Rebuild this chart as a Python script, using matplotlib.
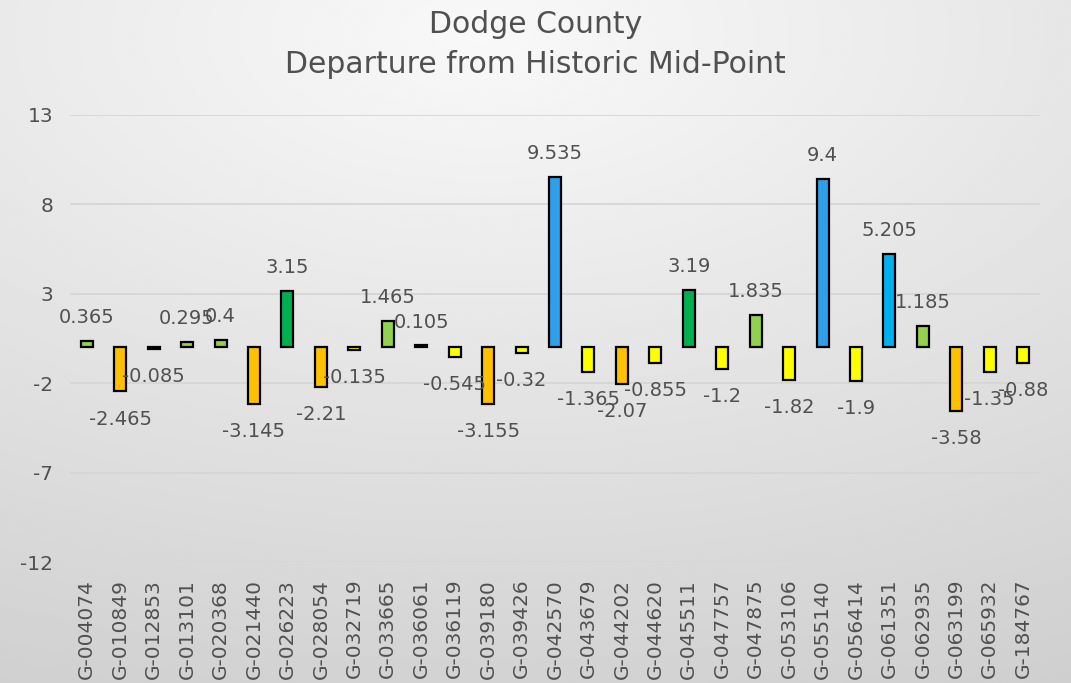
import matplotlib.pyplot as plt
import numpy as np

wells = ["G-004074", "G-010849", "G-012853", "G-013101", "G-020368", "G-021440",
         "G-026223", "G-028054", "G-032719", "G-033665", "G-036061", "G-036119",
         "G-039180", "G-039426", "G-042570", "G-043679", "G-044202", "G-044620",
         "G-045511", "G-047757", "G-047875", "G-053106", "G-055140", "G-056414",
         "G-061351", "G-062935", "G-063199", "G-065932", "G-184767"]
departure = [0.365, -2.465, -0.085, 0.295, 0.4, -3.145, 3.15, -2.21, -0.135, 1.465,
             0.105, -0.545, -3.155, -0.32, 9.535, -1.365, -2.07, -0.855, 3.19, -1.2,
             1.835, -1.82, 9.4, -1.9, 5.205, 1.185, -3.58, -1.35, -0.88]
# colour class of each bar
bar_colors = ["#92D050", "#FFC000", "#FFFF00", "#92D050", "#92D050", "#FFC000",
              "#00B050", "#FFC000", "#FFFF00", "#92D050", "#92D050", "#FFFF00",
              "#FFC000", "#FFFF00", "#2E9FE8", "#FFFF00", "#FFC000", "#FFFF00",
              "#00B050", "#FFFF00", "#92D050", "#FFFF00", "#2E9FE8", "#FFFF00",
              "#00B0F0", "#92D050", "#FFC000", "#FFFF00", "#FFFF00"]
yticks = [-12, -7, -2, 3, 8, 13]

txt = "#505050"
plt.rcParams['font.family'] = ['DejaVu Sans']

fig = plt.figure(figsize=(10.71, 6.83), dpi=100)

# soft grey gradient background
bg = fig.add_axes([0, 0, 1, 1])
yy, xx = np.mgrid[0:1:300j, 0:1:300j]
dist = np.sqrt(((xx - 0.45) * 1.0) ** 2 + ((yy - 0.05) * 1.2) ** 2)
bg.imshow(0.975 - 0.13 * dist, cmap="gray", vmin=0, vmax=1, aspect="auto",
          extent=[0, 1, 1, 0])
bg.axis("off")

ax = fig.add_axes([0.0654, 0.177, 0.9056, 0.655])
ax.patch.set_alpha(0)
x = np.arange(len(wells))
ax.bar(x, departure, width=0.36, color=bar_colors, edgecolor="black", linewidth=1.6, zorder=3)

for xi, v in zip(x, departure):
    if v >= 0:
        ax.annotate(str(v), (xi, v), xytext=(0, 10), textcoords="offset points",
                    ha="center", va="bottom", fontsize=14, color=txt)
    else:
        ax.annotate(str(v), (xi, v), xytext=(0, -13), textcoords="offset points",
                    ha="center", va="top", fontsize=14, color=txt)

ax.set_ylim(-12, 13)
ax.set_xlim(-0.5, len(wells) - 0.5)
ax.set_yticks(yticks)
ax.set_yticklabels([str(t) for t in yticks], fontsize=14.5, color=txt)
ax.set_xticks(x)
ax.set_xticklabels(wells, rotation=90, fontsize=14.5, color=txt)
ax.tick_params(length=0, pad=12)
ax.tick_params(axis="x", pad=12)
ax.grid(axis="y", color="#D6D6D6", linewidth=1.3, zorder=0)
for s in ax.spines.values():
    s.set_visible(False)

fig.text(0.5, 0.985, "Dodge County\nDeparture from Historic Mid-Point", ha="center", va="top",
         fontsize=21.5, color=txt, linespacing=1.45)

fig.savefig("out.png", dpi=100)
